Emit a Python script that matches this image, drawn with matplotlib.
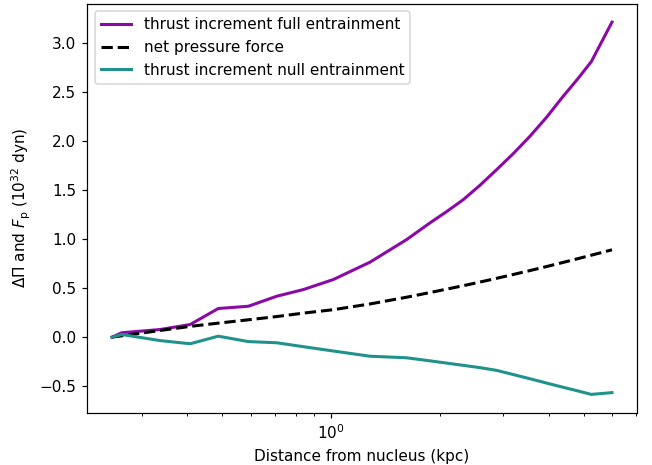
import matplotlib
matplotlib.use("Agg")
import matplotlib.pyplot as plt

distance_kpc = [0.248, 0.264, 0.337, 0.408, 0.488, 0.591, 0.708, 0.839, 1.015,
                1.281, 1.619, 1.877, 2.087, 2.321, 2.579, 2.870, 3.188, 3.546,
                3.944, 4.382, 4.797, 5.25, 5.99]
thrust_full = [0.0, 0.045, 0.078, 0.129, 0.292, 0.315, 0.417, 0.485, 0.587,
               0.763, 0.994, 1.163, 1.278, 1.40, 1.545, 1.705, 1.867, 2.044,
               2.238, 2.451, 2.624, 2.807, 3.21]
pressure_force = [0.0, 0.014, 0.068, 0.11, 0.143, 0.177, 0.21, 0.245, 0.28,
                  0.338, 0.407, 0.454, 0.489, 0.524, 0.561, 0.599, 0.638, 0.678,
                  0.719, 0.761, 0.798, 0.835, 0.89]
thrust_null = [0.0, 0.027, -0.035, -0.067, 0.01, -0.045, -0.057, -0.097, -0.141,
               -0.194, -0.21, -0.241, -0.264, -0.287, -0.310, -0.338, -0.380,
               -0.423, -0.467, -0.510, -0.546, -0.583, -0.565]

labels = ["thrust increment full entrainment", "net pressure force",
          "thrust increment null entrainment"]

dpi = 110
fig = plt.figure(figsize=(652 / dpi, 465 / dpi), dpi=dpi)
ax = fig.add_axes([87 / 652, (465 - 413) / 465, (637 - 87) / 652, (413 - 3.5) / 465])

ax.plot(distance_kpc, thrust_full, color="#8b0aa5", lw=2, label=labels[0])
ax.plot(distance_kpc, pressure_force, color="black", lw=2, ls="--", label=labels[1])
ax.plot(distance_kpc, thrust_null, color="#21918c", lw=2, label=labels[2])

ax.set_xscale("log")
ax.set_xlabel("Distance from nucleus (kpc)")
ax.set_ylabel(r"$\Delta\Pi$ and $F_\mathrm{p}$ ($10^{32}$ dyn)")
ax.legend(loc="upper left")

fig.savefig("out.png", dpi=dpi)
